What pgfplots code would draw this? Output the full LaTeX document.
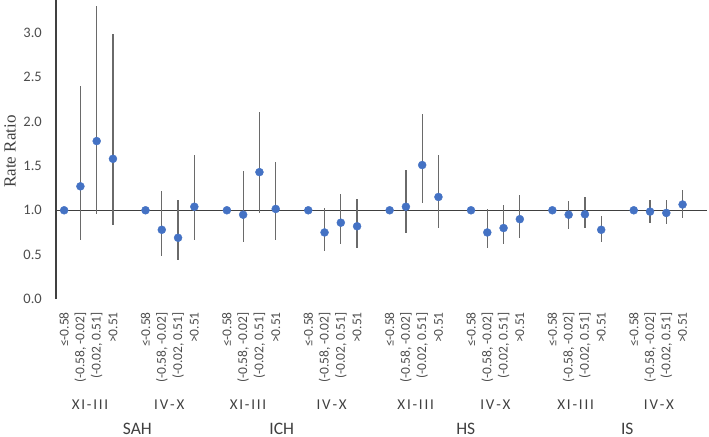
\documentclass[border=0pt]{standalone}
\usepackage{fontspec}
\setmainfont{Carlito}
\newfontfamily\seriffont{Liberation Serif}
\usepackage{pgfplots}
\usepackage{pgfplotstable}
\pgfplotsset{compat=1.18}
\definecolor{mblue}{HTML}{4472C4}
\definecolor{axgray}{HTML}{404040}
\definecolor{bargray}{HTML}{6A6A6A}
\definecolor{lblgray}{HTML}{4D4D4D}
\pgfplotstableread{
x y lo hi
0 1 1 1
1 1.27 0.67 2.40
2 1.78 0.955 3.30
3 1.58 0.83 2.99
5 1 1 1
6 0.78 0.49 1.22
7 0.69 0.435 1.12
8 1.04 0.66 1.62
10 1 1 1
11 0.95 0.64 1.44
12 1.43 0.97 2.11
13 1.015 0.66 1.54
15 1 1 1
16 0.75 0.54 1.03
17 0.86 0.62 1.18
18 0.82 0.58 1.13
20 1 1 1
21 1.04 0.74 1.45
22 1.51 1.08 2.09
23 1.15 0.80 1.62
25 1 1 1
26 0.75 0.58 1.01
27 0.80 0.62 1.06
28 0.90 0.69 1.17
30 1 1 1
31 0.95 0.79 1.11
32 0.955 0.80 1.15
33 0.78 0.64 0.94
35 1 1 1
36 0.985 0.86 1.12
37 0.97 0.84 1.12
38 1.065 0.91 1.23
}\datatable
\def\ls{\kern1.8bp}
\def\XIIII{X\ls I\ls -\ls I\ls I\ls I}
\def\IVX{I\ls V\ls -\ls X}
\begin{document}
\begin{tikzpicture}
\useasboundingbox (0,0) rectangle (709bp,-437bp);
\begin{axis}[
  at={(56bp,-299bp)}, anchor=south west,
  scale only axis, width=651bp, height=299bp,
  xmin=-0.5, xmax=39.5, ymin=0, ymax=3.37,
  axis lines*=left,
  x axis line style={draw=none},
  y axis line style={draw=axgray, line width=1.3bp},
  tick align=inside, major tick length=0pt,
  xtick style={draw=none}, ytick style={draw=none},
  ytick={0,0.5,1,1.5,2,2.5,3},
  yticklabel style={/pgf/number format/.cd, fixed, fixed zerofill, precision=1, /tikz/.cd,
    font=\fontsize{14.5bp}{16bp}\selectfont, text=lblgray, inner sep=0pt},
  yticklabel shift=14bp,
  /pgf/number format/assume math mode=true,
  xtick={0,1,2,3,5,6,7,8,10,11,12,13,15,16,17,18,20,21,22,23,25,26,27,28,30,31,32,33,35,36,37,38},
  xticklabels={{≤-0.58},{(-0.58, -0.02]},{(-0.02, 0.51]},{>0.51},
               {≤-0.58},{(-0.58, -0.02]},{(-0.02, 0.51]},{>0.51},
               {≤-0.58},{(-0.58, -0.02]},{(-0.02, 0.51]},{>0.51},
               {≤-0.58},{(-0.58, -0.02]},{(-0.02, 0.51]},{>0.51},
               {≤-0.58},{(-0.58, -0.02]},{(-0.02, 0.51]},{>0.51},
               {≤-0.58},{(-0.58, -0.02]},{(-0.02, 0.51]},{>0.51},
               {≤-0.58},{(-0.58, -0.02]},{(-0.02, 0.51]},{>0.51},
               {≤-0.58},{(-0.58, -0.02]},{(-0.02, 0.51]},{>0.51}},
  xticklabel style={rotate=90, anchor=east, inner sep=0pt,
    font=\fontsize{13.5bp}{15bp}\selectfont, text=lblgray},
  xticklabel shift=13bp,
  clip=false,
]
\addplot[draw=axgray, line width=1.3bp, forget plot] coordinates {(-0.5,1) (39.5,1)};
\addplot[only marks, mark=*, mark size=4bp, mark options={draw=mblue, fill=mblue},
  error bars/.cd, y dir=both, y explicit, error mark=none,
  error bar style={draw=bargray, line width=1.2bp}]
  table[x=x, y=y, y error plus expr=\thisrow{hi}-\thisrow{y}, y error minus expr=\thisrow{y}-\thisrow{lo}] {\datatable};
\begin{scope}[every node/.style={text=axgray, font=\fontsize{15bp}{17bp}\selectfont, inner sep=0pt}]
\node at (axis cs:1.59,0) [yshift=-106bp] {\XIIII};
\node at (axis cs:6.46,0) [yshift=-106bp] {\IVX};
\node at (axis cs:11.3,0) [yshift=-106bp] {\XIIII};
\node at (axis cs:16.44,0) [yshift=-106bp] {\IVX};
\node at (axis cs:21.6,0) [yshift=-106bp] {\XIIII};
\node at (axis cs:26.5,0) [yshift=-106bp] {\IVX};
\node at (axis cs:31.43,0) [yshift=-106bp] {\XIIII};
\node at (axis cs:36.55,0) [yshift=-106bp] {\IVX};
\end{scope}
\begin{scope}[every node/.style={text=axgray, font=\fontsize{17.5bp}{20bp}\selectfont, inner sep=0pt}]
\node at (axis cs:4.5,0) [yshift=-129.5bp] {SAH};
\node at (axis cs:13.37,0) [yshift=-129.5bp] {ICH};
\node at (axis cs:24.68,0) [yshift=-129.5bp] {HS};
\node at (axis cs:34.6,0) [yshift=-129.5bp] {IS};
\end{scope}
\end{axis}
\node[rotate=90, text=axgray, font=\seriffont\fontsize{17bp}{20bp}\selectfont, inner sep=0pt] at (10bp,-151.5bp) {Rate Ratio};
\end{tikzpicture}
\end{document}
